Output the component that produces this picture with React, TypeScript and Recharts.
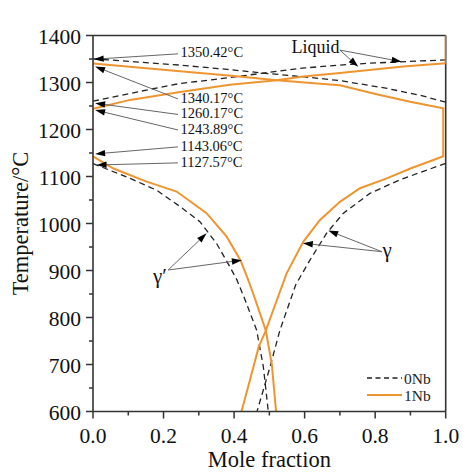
import React from "react";
import { LineChart, Line, XAxis, YAxis, ReferenceLine, ReferenceDot, Legend } from "recharts";

// mole fraction (x) vs temperature (t, °C)
const NB0_LIQ_A = [
  { x: 0, t: 1350.42 }, { x: 0.12, t: 1344 }, { x: 0.247, t: 1337 }, { x: 0.38, t: 1328 },
  { x: 0.483, t: 1320 }, { x: 0.6, t: 1312 }, { x: 0.7, t: 1304 }, { x: 0.83, t: 1288 },
  { x: 0.927, t: 1273 }, { x: 1.0, t: 1258 },
];
const NB0_LIQ_B = [
  { x: 0, t: 1260.17 }, { x: 0.152, t: 1284 }, { x: 0.247, t: 1298 }, { x: 0.341, t: 1306 },
  { x: 0.483, t: 1320 }, { x: 0.6, t: 1331 }, { x: 0.7, t: 1337 }, { x: 0.785, t: 1341 },
  { x: 0.9, t: 1345 }, { x: 1.0, t: 1348 },
];
const NB0_GAMMA_P = [
  { x: 0, t: 1127.57 }, { x: 0.105, t: 1096 }, { x: 0.18, t: 1071 }, { x: 0.247, t: 1036 },
  { x: 0.303, t: 1004 }, { x: 0.35, t: 958 }, { x: 0.388, t: 908 }, { x: 0.408, t: 880 },
  { x: 0.43, t: 840 }, { x: 0.464, t: 773 }, { x: 0.483, t: 695 }, { x: 0.497, t: 600 },
];
const NB0_GAMMA = [
  { x: 1.0, t: 1128 }, { x: 0.87, t: 1093 }, { x: 0.785, t: 1064 }, { x: 0.71, t: 1022 },
  { x: 0.662, t: 979 }, { x: 0.615, t: 922 }, { x: 0.575, t: 870 }, { x: 0.53, t: 773 },
  { x: 0.502, t: 695 }, { x: 0.465, t: 600 },
];
const NB1_LIQ_A_GAMMA = [
  { x: 0, t: 1340.17 }, { x: 0.247, t: 1324 }, { x: 0.4, t: 1314 }, { x: 0.521, t: 1305 },
  { x: 0.6, t: 1300 }, { x: 0.7, t: 1294 }, { x: 0.804, t: 1275 }, { x: 0.899, t: 1259 },
  { x: 0.993, t: 1245 }, { x: 0.993, t: 1143 }, { x: 0.965, t: 1135 }, { x: 0.9, t: 1117 },
  { x: 0.833, t: 1096 }, { x: 0.757, t: 1075 }, { x: 0.7, t: 1046 }, { x: 0.643, t: 1007 },
  { x: 0.596, t: 961 }, { x: 0.549, t: 894 }, { x: 0.511, t: 816 }, { x: 0.49, t: 772 },
  { x: 0.47, t: 738 }, { x: 0.445, t: 667 }, { x: 0.421, t: 600 },
];
const NB1_LIQ_B = [
  { x: 0, t: 1243.89 }, { x: 0.105, t: 1263 }, { x: 0.247, t: 1280 }, { x: 0.388, t: 1295 },
  { x: 0.521, t: 1305 }, { x: 0.596, t: 1313 }, { x: 0.7, t: 1320 }, { x: 0.88, t: 1334 },
  { x: 1.0, t: 1341 }, { x: 1.0, t: 1400 },
];
const NB1_GAMMA_P = [
  { x: 0, t: 1143.06 }, { x: 0.058, t: 1117 }, { x: 0.152, t: 1089 }, { x: 0.237, t: 1068 },
  { x: 0.322, t: 1022 }, { x: 0.379, t: 972 }, { x: 0.418, t: 922 }, { x: 0.44, t: 880 },
  { x: 0.454, t: 851 }, { x: 0.472, t: 812 }, { x: 0.49, t: 772 }, { x: 0.507, t: 700 },
  { x: 0.519, t: 600 },
];

const SERIES_NAMES = ["0Nb", "1Nb"];
const X_TICKS = [0, 0.1, 0.2, 0.3, 0.4, 0.5, 0.6, 0.7, 0.8, 0.9, 1.0];
const Y_TICKS = [600, 650, 700, 750, 800, 850, 900, 950, 1000, 1050, 1100, 1150, 1200, 1250, 1300, 1350, 1400];

// annotation text anchored in data space
const LABELS = [
  { text: "1350.42°C", x: 0.248, t: 1364, size: 14.5, anchor: "start" },
  { text: "1340.17°C", x: 0.248, t: 1266, size: 14.5, anchor: "start" },
  { text: "1260.17°C", x: 0.248, t: 1234.5, size: 14.5, anchor: "start" },
  { text: "1243.89°C", x: 0.248, t: 1201, size: 14.5, anchor: "start" },
  { text: "1143.06°C", x: 0.248, t: 1165, size: 14.5, anchor: "start" },
  { text: "1127.57°C", x: 0.248, t: 1130, size: 14.5, anchor: "start" },
  { text: "Liquid", x: 0.563, t: 1375, size: 18, anchor: "start" },
  { text: "γ′", x: 0.19, t: 888, size: 21, anchor: "middle" },
  { text: "γ", x: 0.834, t: 944, size: 21, anchor: "middle" },
];
const ARROWS = [
  { from: { x: 0.241, t: 1361 }, to: { x: 0.002, t: 1349.5 } },
  { from: { x: 0.241, t: 1265 }, to: { x: 0.006, t: 1334 } },
  { from: { x: 0.241, t: 1232 }, to: { x: 0.006, t: 1256 } },
  { from: { x: 0.241, t: 1199 }, to: { x: 0.006, t: 1241.5 } },
  { from: { x: 0.241, t: 1163 }, to: { x: 0.006, t: 1148 } },
  { from: { x: 0.241, t: 1129 }, to: { x: 0.01, t: 1124.5 } },
  { from: { x: 0.7, t: 1369 }, to: { x: 0.752, t: 1333.6 } },
  { from: { x: 0.7, t: 1369 }, to: { x: 0.875, t: 1344.3 } },
  { from: { x: 0.213, t: 901 }, to: { x: 0.322, t: 979 } },
  { from: { x: 0.213, t: 901 }, to: { x: 0.422, t: 922 } },
  { from: { x: 0.819, t: 940 }, to: { x: 0.667, t: 985 } },
  { from: { x: 0.819, t: 940 }, to: { x: 0.595, t: 958 } },
];

const FONT = "'Liberation Serif', 'Times New Roman', serif";
const ORANGE = "#EE9530";
const DARK = "#222";
const AXIS = "#333";

const ArrowShape = (props: any) => {
  const { x1, y1, x2, y2 } = props;
  const a = Math.atan2(y2 - y1, x2 - x1);
  const len = 10;
  const half = 3.2;
  const bx = x2 - len * Math.cos(a);
  const by = y2 - len * Math.sin(a);
  const pts = `${x2},${y2} ${bx - half * Math.sin(a)},${by + half * Math.cos(a)} ${bx + half * Math.sin(a)},${by - half * Math.cos(a)}`;
  return (
    <g>
      <line x1={x1} y1={y1} x2={bx} y2={by} stroke="#666" strokeWidth={1} />
      <polygon points={pts} fill="#000" />
    </g>
  );
};

const XTick = (props: any) => {
  const { x, y, payload } = props;
  const major = Math.round(payload.value * 10) % 2 === 0;
  return (
    <g>
      <line x1={x} y1={y} x2={x} y2={y + (major ? 7 : 4)} stroke={AXIS} strokeWidth={1.5} />
      {major && (
        <text x={x} y={y + 24} textAnchor="middle" dominantBaseline="central" fontFamily={FONT} fontSize={21.5} fill="#111">
          {payload.value.toFixed(1)}
        </text>
      )}
    </g>
  );
};

const YTick = (props: any) => {
  const { x, y, payload } = props;
  const major = payload.value % 100 === 0;
  return (
    <g>
      <line x1={x} y1={y} x2={x - (major ? 7 : 4)} y2={y} stroke={AXIS} strokeWidth={1.5} />
      {major && (
        <text x={x - 12} y={y + 1} textAnchor="end" dominantBaseline="central" fontFamily={FONT} fontSize={21.5} fill="#111">
          {payload.value}
        </text>
      )}
    </g>
  );
};

const LegendBox = () => (
  <svg width={80} height={40} style={{ display: "block" }}>
    <line x1={0} y1={10} x2={35} y2={10} stroke={DARK} strokeDasharray="5 3.5" strokeWidth={1.3} />
    <text x={37} y={10} dominantBaseline="central" fontFamily={FONT} fontSize={15.5} fill="#222">
      {SERIES_NAMES[0]}
    </text>
    <line x1={0} y1={27} x2={35} y2={27} stroke={ORANGE} strokeWidth={2} />
    <text x={37} y={27} dominantBaseline="central" fontFamily={FONT} fontSize={15.5} fill="#222">
      {SERIES_NAMES[1]}
    </text>
  </svg>
);

const dashed = { stroke: DARK, strokeWidth: 1.3, strokeDasharray: "6 4" };
const solid = { stroke: ORANGE, strokeWidth: 2 };

export default function App() {
  return (
    <div style={{ position: "absolute", left: 0, top: 0, background: "#fff" }}>
      <LineChart width={474} height={474} margin={{ top: 35.5, right: 28.3, bottom: 32.5, left: 33 }}>
        <XAxis
          type="number"
          dataKey="x"
          domain={[0, 1]}
          ticks={X_TICKS}
          interval={0}
          allowDataOverflow
          height={30}
          tickSize={0}
          tickMargin={0}
          tickLine={false}
          tick={XTick}
          axisLine={{ stroke: AXIS, strokeWidth: 1.6 }}
          label={{
            content: (p: any) => (
              <text x={p.viewBox.x + p.viewBox.width / 2} y={p.viewBox.y + 55.5} textAnchor="middle" fontFamily={FONT} fontSize={22.5} fill="#111">
                Mole fraction
              </text>
            ),
          }}
        />
        <YAxis
          type="number"
          domain={[600, 1400]}
          ticks={Y_TICKS}
          interval={0}
          allowDataOverflow
          width={60}
          tickSize={0}
          tickMargin={0}
          tickLine={false}
          tick={YTick}
          axisLine={{ stroke: AXIS, strokeWidth: 1.6 }}
          label={{
            content: (p: any) => {
              const cx = p.viewBox.x - 13;
              const cy = p.viewBox.y + p.viewBox.height / 2;
              return (
                <text x={cx} y={cy} transform={`rotate(-90 ${cx} ${cy})`} textAnchor="middle" dominantBaseline="central" fontFamily={FONT} fontSize={22.5} fill="#111">
                  Temperature/°C
                </text>
              );
            },
          }}
        />
        <ReferenceLine y={1400} stroke={AXIS} strokeWidth={1.6} ifOverflow="visible" />
        <ReferenceLine x={1} stroke={AXIS} strokeWidth={1.6} ifOverflow="visible" />

        <Line data={NB0_LIQ_A} dataKey="t" name="0Nb-a" type="linear" dot={false} isAnimationActive={false} {...dashed} />
        <Line data={NB0_LIQ_B} dataKey="t" name="0Nb-b" type="linear" dot={false} isAnimationActive={false} {...dashed} />
        <Line data={NB0_GAMMA_P} dataKey="t" name="0Nb-c" type="linear" dot={false} isAnimationActive={false} {...dashed} />
        <Line data={NB0_GAMMA} dataKey="t" name="0Nb-d" type="linear" dot={false} isAnimationActive={false} {...dashed} />
        <Line data={NB1_LIQ_A_GAMMA} dataKey="t" name="1Nb-a" type="linear" dot={false} isAnimationActive={false} {...solid} />
        <Line data={NB1_LIQ_B} dataKey="t" name="1Nb-b" type="linear" dot={false} isAnimationActive={false} {...solid} />
        <Line data={NB1_GAMMA_P} dataKey="t" name="1Nb-c" type="linear" dot={false} isAnimationActive={false} {...solid} />

        {ARROWS.map((a, i) => (
          <ReferenceLine
            key={`ar${i}`}
            segment={[{ x: a.from.x, y: a.from.t }, { x: a.to.x, y: a.to.t }]}
            ifOverflow="visible"
            shape={ArrowShape}
          />
        ))}
        {LABELS.map((l, i) => (
          <ReferenceDot
            key={`lb${i}`}
            x={l.x}
            y={l.t}
            r={0}
            ifOverflow="visible"
            shape={(p: any) => (
              <text x={p.cx} y={p.cy} textAnchor={l.anchor} dominantBaseline="central" fontFamily={FONT} fontSize={l.size} fill="#111">
                {l.text}
              </text>
            )}
          />
        ))}
        <Legend
          layout="horizontal"
          verticalAlign="middle"
          align="center"
          content={LegendBox}
          wrapperStyle={{ left: 366.5, top: 368, width: 80, height: 40 }}
        />
      </LineChart>
    </div>
  );
}
